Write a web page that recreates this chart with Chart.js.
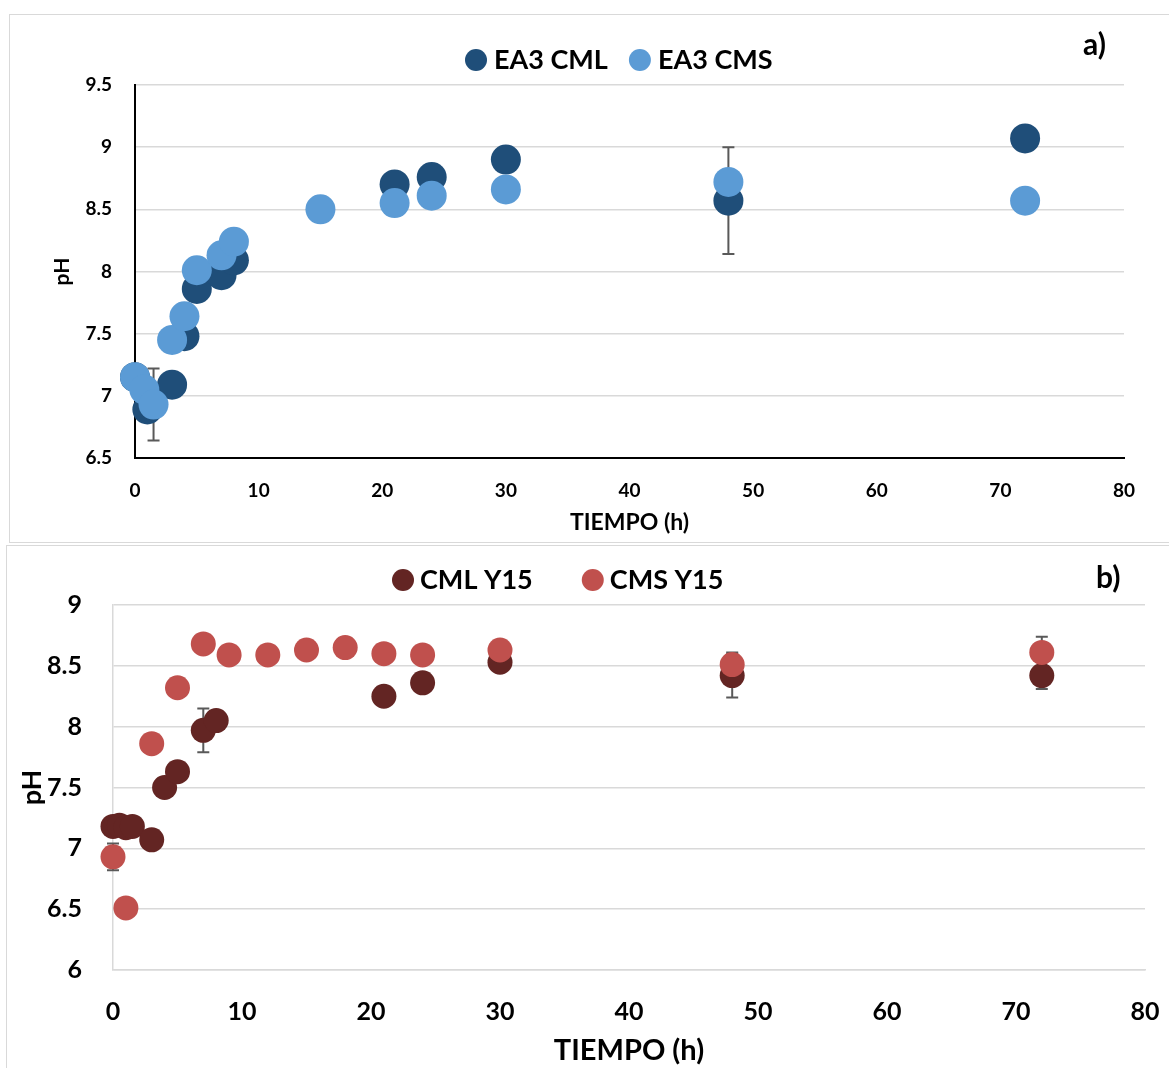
<!DOCTYPE html>
<html>
<head>
<meta charset="utf-8">
<script src="https://cdn.jsdelivr.net/npm/chart.js@4.4.1/dist/chart.umd.min.js"></script>
<style>
  body { margin: 0; background: #fff; width: 1169px; height: 1068px; overflow: hidden; position: relative; }
  .box { position: absolute; border: 1px solid #d9d9d9; background: #fff; }
  #boxA { left: 9px; top: 14px; width: 1170px; height: 527px; }
  #boxB { left: 6px; top: 545px; width: 1170px; height: 530px; }
  canvas { position: absolute; left: 0; top: 0; }
</style>
</head>
<body>
<div class="box" id="boxA"><canvas id="chartA" width="1159" height="527"></canvas></div>
<div class="box" id="boxB"><canvas id="chartB" width="1162" height="522"></canvas></div>
<script>
// panel a)
var timeA_CML = [0, 1, 3, 4, 5, 7, 8, 21, 24, 30, 48, 72];
var phA_CML   = [7.15, 6.89, 7.09, 7.48, 7.86, 7.97, 8.09, 8.70, 8.76, 8.90, 8.57, 9.07];
var errA_CML  = [0, 0, 0, 0, 0, 0, 0, 0, 0, 0, 0.43, 0];
var timeA_CMS = [0, 0.75, 1.5, 3, 4, 5, 7, 8, 15, 21, 24, 30, 48, 72];
var phA_CMS   = [7.15, 7.05, 6.93, 7.45, 7.64, 8.01, 8.13, 8.24, 8.50, 8.55, 8.61, 8.66, 8.72, 8.57];
var errA_CMS  = [0, 0, 0.29, 0, 0, 0, 0, 0, 0, 0, 0, 0, 0, 0];

// panel b)
var timeB_CML = [0, 0.5, 1, 1.5, 3, 4, 5, 7, 8, 21, 24, 30, 48, 72];
var phB_CML   = [7.18, 7.19, 7.17, 7.18, 7.07, 7.50, 7.63, 7.97, 8.05, 8.25, 8.36, 8.53, 8.42, 8.42];
var errB_CML  = [0, 0, 0, 0, 0, 0, 0, 0.18, 0, 0, 0, 0, 0.18, 0.11];
var timeB_CMS = [0, 1, 3, 5, 7, 9, 12, 15, 18, 21, 24, 30, 48, 72];
var phB_CMS   = [6.93, 6.51, 7.86, 8.32, 8.68, 8.59, 8.59, 8.63, 8.65, 8.60, 8.59, 8.63, 8.51, 8.61];
var errB_CMS  = [0.11, 0, 0, 0.05, 0, 0, 0, 0, 0, 0, 0, 0, 0.1, 0.13];

function pts(xs, ys) {
  return xs.map(function (x, i) { return { x: x, y: ys[i] }; });
}

// error bars drawn under the markers
var errorBars = {
  id: "errorBars",
  beforeDatasetsDraw: function (chart) {
    var ctx = chart.ctx, xs = chart.scales.x, ys = chart.scales.y;
    ctx.save();
    ctx.strokeStyle = "#595959";
    ctx.lineWidth = 2;
    chart.data.datasets.forEach(function (ds) {
      (ds.errors || []).forEach(function (e, i) {
        if (!e) return;
        var p = ds.data[i];
        var px = xs.getPixelForValue(p.x);
        var top = ys.getPixelForValue(p.y + e), bot = ys.getPixelForValue(p.y - e);
        ctx.beginPath();
        ctx.moveTo(px, top); ctx.lineTo(px, bot);
        ctx.moveTo(px - 6, top); ctx.lineTo(px + 6, top);
        ctx.moveTo(px - 6, bot); ctx.lineTo(px + 6, bot);
        ctx.stroke();
      });
    });
    ctx.restore();
  }
};

// legend + panel tag
var customLegend = {
  id: "customLegend",
  afterDraw: function (chart, args, o) {
    var ctx = chart.ctx;
    ctx.save();
    ctx.font = o.font;
    ctx.textBaseline = "middle";
    ctx.textAlign = "left";
    var x = o.x;
    chart.data.datasets.forEach(function (ds) {
      ctx.fillStyle = ds.backgroundColor;
      ctx.beginPath();
      ctx.arc(x, o.y, o.r, 0, Math.PI * 2);
      ctx.fill();
      ctx.fillStyle = "#000";
      ctx.fillText(ds.label, x + o.r + o.textGap, o.y);
      x += o.r + o.textGap + ctx.measureText(ds.label).width + o.gap + o.r;
    });
    ctx.font = o.tagFont;
    ctx.fillText(o.tag, o.tagX, o.tagY);
    ctx.restore();
  }
};

function tickLabel(v) { return String(+v.toFixed(1)); }

function makeChart(id, cfg) {
  var f = "Lato";
  return new Chart(document.getElementById(id).getContext("2d"), {
    type: "scatter",
    data: {
      datasets: [
        {
          label: cfg.labels[0],
          data: pts(cfg.xs[0], cfg.ys[0]),
          errors: cfg.errs[0],
          backgroundColor: cfg.colors[0],
          borderWidth: 0,
          pointRadius: cfg.radius,
          pointHoverRadius: cfg.radius,
          clip: false,
          order: 1,
        },
        {
          label: cfg.labels[1],
          data: pts(cfg.xs[1], cfg.ys[1]),
          errors: cfg.errs[1],
          backgroundColor: cfg.colors[1],
          borderWidth: 0,
          pointRadius: cfg.radius,
          pointHoverRadius: cfg.radius,
          clip: false,
          order: 0,
        },
      ],
    },
    options: {
      responsive: false,
      animation: false,
      layout: { padding: { top: cfg.padTop, right: cfg.padRight, left: 0, bottom: 0 } },
      plugins: {
        legend: { display: false },
        tooltip: { enabled: false },
        customLegend: cfg.legend,
      },
      scales: {
        x: {
          type: "linear",
          min: 0,
          max: 80,
          ticks: { stepSize: 10, padding: 0, color: "#000", font: { family: f, size: cfg.tickSize, weight: "bold" } },
          grid: { drawOnChartArea: false, drawTicks: true, tickLength: cfg.xTickPad, tickColor: "rgba(0,0,0,0)" },
          border: { color: cfg.axisColor, width: cfg.axisWidth },
          title: { display: true, text: "TIEMPO (h)", color: "#000", font: { family: f, size: cfg.titleSize, weight: "bold" }, padding: { top: 0, bottom: cfg.xTitlePad } },
          afterFit: function (s) { s.height = cfg.xHeight; },
        },
        y: {
          min: cfg.yMin,
          max: cfg.yMax,
          ticks: { stepSize: 0.5, padding: cfg.yTickPad, color: "#000", font: { family: f, size: cfg.tickSize, weight: "bold" }, callback: tickLabel },
          grid: { color: "#d9d9d9", lineWidth: 1.5, drawTicks: false },
          border: { color: cfg.axisColor, width: cfg.axisWidth },
          title: { display: true, text: "pH", color: "#000", font: { family: f, size: cfg.yTitleSize, weight: "bold" }, padding: { top: cfg.yTitlePad, bottom: 0 } },
          afterFit: function (s) { s.width = cfg.yWidth; },
        },
      },
    },
    plugins: [errorBars, customLegend],
  });
}

makeChart("chartA", {
  labels: ["EA3 CML", "EA3 CMS"],
  xs: [timeA_CML, timeA_CMS],
  ys: [phA_CML, phA_CMS],
  errs: [errA_CML, errA_CMS],
  colors: ["#1F4E79", "#5B9BD5"],
  radius: 15,
  padTop: 70, padRight: 45,
  xHeight: 84, yWidth: 125,
  tickSize: 19, titleSize: 23, yTitleSize: 21,
  xTickPad: 21, xTitlePad: 6, yTickPad: 23, yTitlePad: 40,
  axisColor: "#000", axisWidth: 2,
  yMin: 6.5, yMax: 9.5,
  legend: { x: 466, y: 45, r: 11, textGap: 7, gap: 21, font: "bold 27px Lato", tag: "a)", tagX: 1073, tagY: 30, tagFont: "bold 30px Lato" },
});

makeChart("chartB", {
  labels: ["CML Y15", "CMS Y15"],
  xs: [timeB_CML, timeB_CMS],
  ys: [phB_CML, phB_CMS],
  errs: [errB_CML, errB_CMS],
  colors: ["#632523", "#C0504D"],
  radius: 12.5,
  padTop: 59, padRight: 24,
  xHeight: 98, yWidth: 106,
  tickSize: 25, titleSize: 29, yTitleSize: 27,
  xTickPad: 27, xTitlePad: 0, yTickPad: 31, yTitlePad: 9,
  axisColor: "#d9d9d9", axisWidth: 1.5,
  yMin: 6, yMax: 9,
  legend: { x: 396, y: 34, r: 11, textGap: 6, gap: 49, font: "bold 27px Lato", tag: "b)", tagX: 1089, tagY: 32, tagFont: "bold 30px Lato" },
});
</script>
</body>
</html>
